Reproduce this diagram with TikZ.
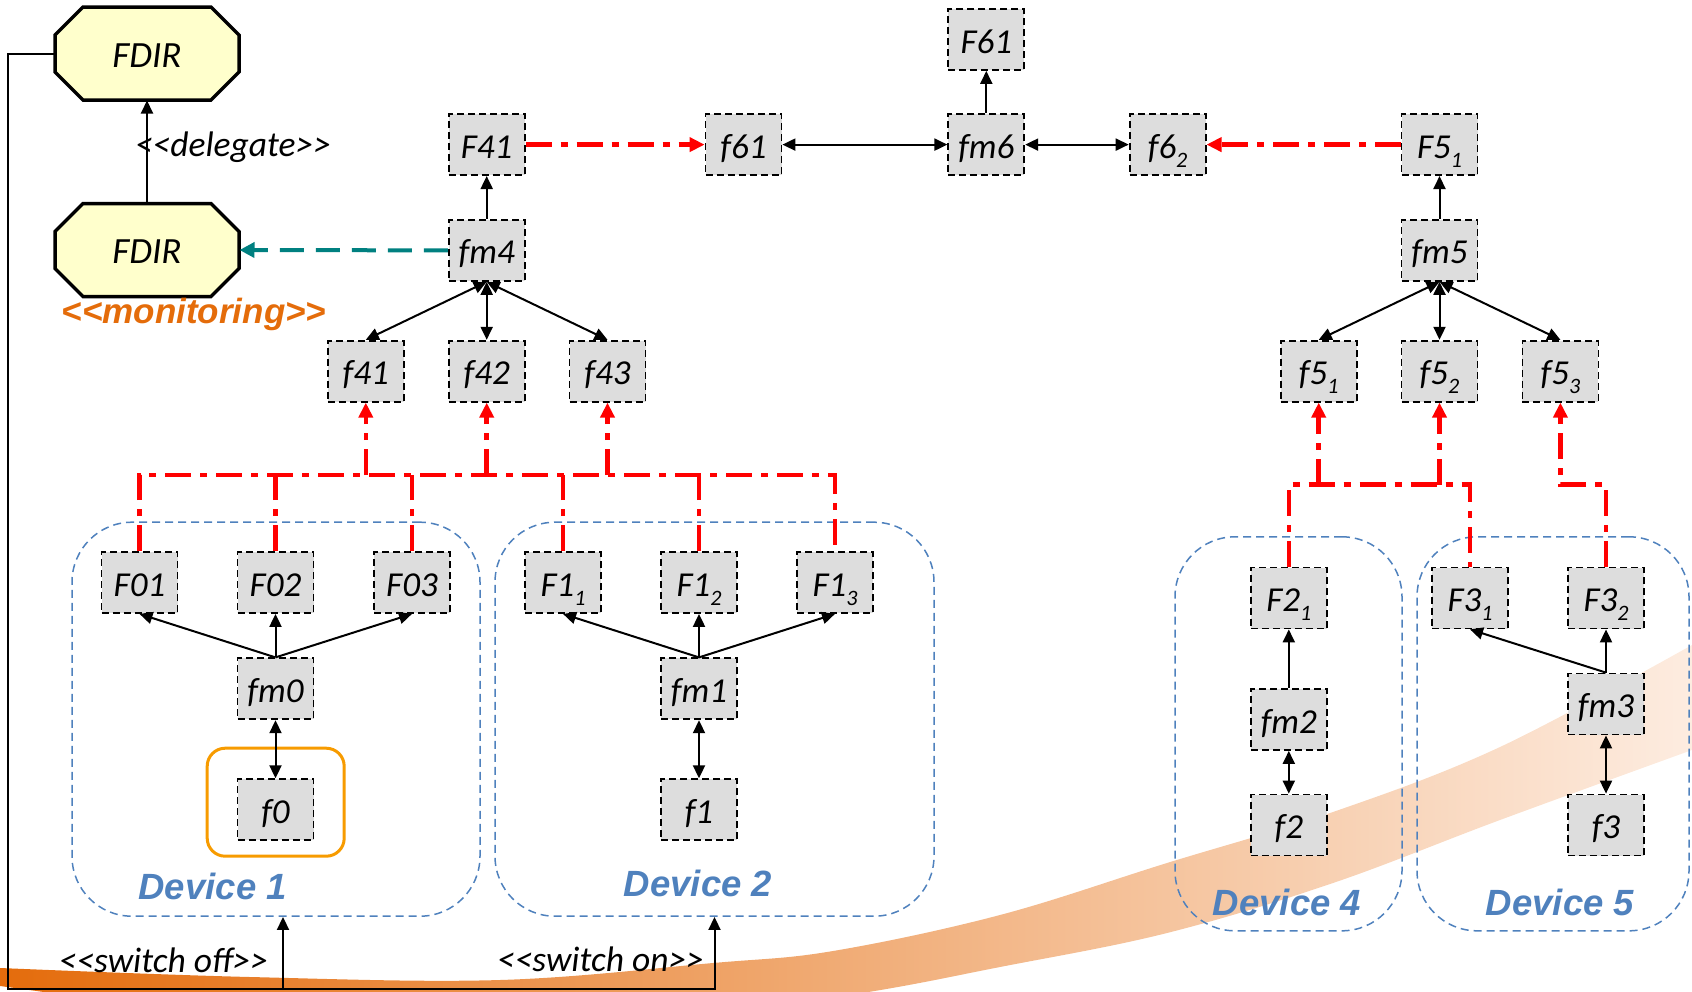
\documentclass[tikz,border=0pt]{standalone}
\usepackage{fontspec}
\setmainfont{Carlito}
\newfontfamily\arialfont{Liberation Sans}
\usetikzlibrary{arrows.meta,calc}

\definecolor{boxgray}{RGB}{221,221,221}
\definecolor{fdiryellow}{RGB}{255,255,204}
\definecolor{devblue}{RGB}{79,129,189}
\definecolor{monorange}{RGB}{228,108,10}
\definecolor{ringorange}{RGB}{247,155,0}
\definecolor{tealc}{RGB}{0,128,128}
\definecolor{redc}{RGB}{255,0,0}
\definecolor{swA}{RGB}{228,108,12}
\definecolor{swB}{RGB}{238,142,76}
\definecolor{swC}{RGB}{253,236,224}

\newcommand\lowsub[1]{\raisebox{-9pt}{\fontsize{22}{22}\selectfont #1}}

\begin{document}
\begin{tikzpicture}[x=1pt,y=-1pt,
 fbox/.style={draw=black, dash pattern=on 7pt off 4pt, line width=1.8pt, fill=boxgray,
   minimum width=76pt, minimum height=61pt, inner sep=0pt, text height=27pt, text depth=0pt,
   font=\fontsize{35}{35}\selectfont\itshape},
 fdir/.style={minimum width=188pt, minimum height=97pt, inner sep=0pt, outer sep=-1.5pt,
   text height=27pt, text depth=0pt, font=\fontsize{37}{37}\selectfont\itshape,
   path picture={\path[fill=fdiryellow, draw=black, line width=3.5pt]
     ($(path picture bounding box.north west)+(30pt,-2pt)$) --
     ($(path picture bounding box.north east)+(-30pt,-2pt)$) --
     ($(path picture bounding box.north east)+(-2pt,-30pt)$) --
     ($(path picture bounding box.south east)+(-2pt,30pt)$) --
     ($(path picture bounding box.south east)+(-30pt,2pt)$) --
     ($(path picture bounding box.south west)+(30pt,2pt)$) --
     ($(path picture bounding box.south west)+(2pt,30pt)$) --
     ($(path picture bounding box.north west)+(2pt,-30pt)$) -- cycle;}},
 devbox/.style={draw=devblue, dash pattern=on 8pt off 5pt, line width=1.5pt,
   rounded corners=60pt, inner sep=0pt},
 devlabel/.style={text=devblue, font=\fontsize{36.5}{36.5}\selectfont\arialfont\bfseries\itshape,
   anchor=base, inner sep=0pt},
 lbl/.style={font=\fontsize{35.5}{35.5}\selectfont\itshape, anchor=base, inner sep=0pt},
 conn/.style={line width=2pt, -{Triangle[length=13pt,width=12pt]}},
 dconn/.style={line width=2pt, {Triangle[length=13pt,width=12pt]}-{Triangle[length=13pt,width=12pt]}},
 frame/.style={line width=2pt},
 redline/.style={draw=redc, line width=4.5pt, dash pattern=on 26pt off 9pt on 7pt off 9pt},
 redarrow/.style={redline, -{Triangle[length=15pt,width=14pt]}},
 tealarrow/.style={draw=tealc, line width=4pt, dash pattern=on 24pt off 12pt,
   -{Triangle[length=15pt,width=15pt]}}
]
\useasboundingbox (0,0) rectangle (1692,991);

% background swoosh
\begin{scope}
\clip (0,0) rectangle (1692,991);
\shade[left color=swA, middle color=swB, right color=swC]
  plot[smooth, tension=0.6] coordinates {(0,968) (250,977) (500,980) (713,963) (833,951) (1000,915) (1167,863) (1333,812) (1500,747) (1692,645)}
  -- plot[smooth, tension=0.6] coordinates {(1692,750) (1500,820) (1333,883) (1167,933) (1000,967) (850,995) (600,1030) (300,1030) (100,1000) (0,986)}
  -- cycle;
\end{scope}

% device containers
\node[devbox, minimum width=408pt, minimum height=394pt] (dev1) at (276,719.2) {};
\node[devbox, minimum width=439pt, minimum height=394pt] (dev2) at (714.5,719.2) {};
\node[devbox, minimum width=227pt, minimum height=394pt] (dev4) at (1288.5,733.8) {};
\node[devbox, minimum width=272pt, minimum height=394pt] (dev5) at (1553,733.8) {};
\node[draw=ringorange, line width=3pt, rounded corners=18pt, minimum width=137pt, minimum height=108pt, inner sep=0pt] (ring0) at (275.7,802.2) {};

\node[devlabel] (lab1) at (212.7,899.3) {Device 1};
\node[devlabel] (lab2) at (698,896) {Device 2};
\node[devlabel] (lab4) at (1287,915) {Device 4};
\node[devlabel] (lab5) at (1560,915) {Device 5};

% FDIR
\node[fdir] (fdirA) at (147,53.5) {FDIR};
\node[fdir] (fdirB) at (147,250) {FDIR};
\node[lbl] (dlg) at (233,156) {<\kern0pt<delegate>\kern0pt>};
\node[anchor=base, inner sep=0pt, text=monorange, font=\fontsize{35}{35}\selectfont\arialfont\bfseries\itshape] (mon) at (194,323) {<\kern0pt<monitoring>\kern0pt>};

% upper nodes
\node[fbox] (F41) at (486.7,144.6) {F41};
\node[fbox] (f61) at (743.5,144.6) {f61};
\node[fbox] (fm6) at (986.3,144.6) {fm6};
\node[fbox] (f62) at (1167.6,144.6) {f6\lowsub{2}};
\node[fbox] (F51) at (1439.5,144.6) {F5\lowsub{1}};
\node[fbox] (F61) at (986.3,39.5) {F61};
\node[fbox] (fm4) at (486.7,250.4) {fm4};
\node[fbox] (fm5) at (1439.5,250.4) {fm5};
\node[fbox] (f41) at (365.8,371.2) {f41};
\node[fbox] (f42) at (486.7,371.2) {f42};
\node[fbox] (f43) at (607.5,371.2) {f43};
\node[fbox] (f51) at (1318.7,371.2) {f5\lowsub{1}};
\node[fbox] (f52) at (1439.5,371.2) {f5\lowsub{2}};
\node[fbox] (f53) at (1560.4,371.2) {f5\lowsub{3}};

% device 1
\node[fbox] (F01) at (139.5,582.5) {F01};
\node[fbox] (F02) at (275.5,582.5) {F02};
\node[fbox] (F03) at (412,582.5) {F03};
\node[fbox] (fm0) at (275.5,688.8) {fm0};
\node[fbox] (f0) at (275.5,809.7) {f0};
% device 2
\node[fbox] (F11) at (563,582.5) {F1\lowsub{1}};
\node[fbox] (F12) at (699,582.5) {F1\lowsub{2}};
\node[fbox] (F13) at (835,582.5) {F1\lowsub{3}};
\node[fbox] (fm1) at (699,688.8) {fm1};
\node[fbox] (f1) at (699,809.7) {f1};
% device 4
\node[fbox] (F21) at (1288.8,598) {F2\lowsub{1}};
\node[fbox] (fm2) at (1288.8,719.5) {fm2};
\node[fbox] (f2) at (1288.8,825) {f2};
% device 5
\node[fbox] (F31) at (1470,598) {F3\lowsub{1}};
\node[fbox] (F32) at (1606,598) {F3\lowsub{2}};
\node[fbox] (fm3) at (1606,704) {fm3};
\node[fbox] (f3) at (1606,825) {f3};

% switch labels
\node[lbl] (swofflab) at (163.5,972.7) {<\kern0pt<switch off>\kern0pt>};
\node[lbl] (swonlab) at (600.5,971.7) {<\kern0pt<switch on>\kern0pt>};

% frame line and switch arrows
\coordinate (frBL) at (8,989);
\coordinate (swoff) at (283,989);
\draw[frame, -{Triangle[length=13pt,width=12pt]}] (fdirA.west) -| (frBL) -| (dev2.south);
\draw[conn] (swoff) -- (swoff |- dev1.south);

% FDIR connectors
\draw[conn] (fdirB.north) -- (fdirA.south);
\draw[tealarrow] (fm4.west) -- (fdirB.east);

% upper connectors
\draw[conn] (fm4.north) -- (F41.south);
\draw[dconn] (fm4.south) -- (f41.north);
\draw[dconn] (fm4.south) -- (f42.north);
\draw[dconn] (fm4.south) -- (f43.north);
\draw[redarrow] (F41.east) -- (f61.west);
\draw[dconn] (f61.east) -- (fm6.west);
\draw[dconn] (fm6.east) -- (f62.west);
\draw[conn] (fm6.north) -- (F61.south);
\draw[redarrow] (F51.west) -- (f62.east);
\draw[conn] (fm5.north) -- (F51.south);
\draw[dconn] (fm5.south) -- (f51.north);
\draw[dconn] (fm5.south) -- (f52.north);
\draw[dconn] (fm5.south) -- (f53.north);

% device connectors
\draw[conn] (fm0.north) -- (F01.south);
\draw[conn] (fm0.north) -- (F02.south);
\draw[conn] (fm0.north) -- (F03.south);
\draw[dconn] (fm0.south) -- (f0.north);
\draw[conn] (fm1.north) -- (F11.south);
\draw[conn] (fm1.north) -- (F12.south);
\draw[conn] (fm1.north) -- (F13.south);
\draw[dconn] (fm1.south) -- (f1.north);
\draw[conn] (fm2.north) -- (F21.south);
\draw[dconn] (fm2.south) -- (f2.north);
\draw[conn] (fm3.north) -- (F31.south);
\draw[conn] (fm3.north) -- (F32.south);
\draw[dconn] (fm3.south) -- (f3.north);

% red buses (left)
\coordinate (busA) at (835,475);
\draw[redline] (F01.north) |- (busA) -- (F13.north);
\draw[redline] (F02.north) -- (F02.north |- busA);
\draw[redline] (F03.north) -- (F03.north |- busA);
\draw[redline] (F11.north) -- (F11.north |- busA);
\draw[redline] (F12.north) -- (F12.north |- busA);
\draw[redarrow] (f41.south |- busA) -- (f41.south);
\draw[redarrow] (f42.south |- busA) -- (f42.south);
\draw[redarrow] (f43.south |- busA) -- (f43.south);

% red buses (right)
\coordinate (busB) at (1470,484.5);
\draw[redline] (F21.north) |- (busB) -- (F31.north);
\draw[redarrow] (f51.south |- busB) -- (f51.south);
\draw[redarrow] (f52.south |- busB) -- (f52.south);
\draw[redarrow] (F32.north) |- (f53.south |- busB) -- (f53.south);
\end{tikzpicture}
\end{document}
